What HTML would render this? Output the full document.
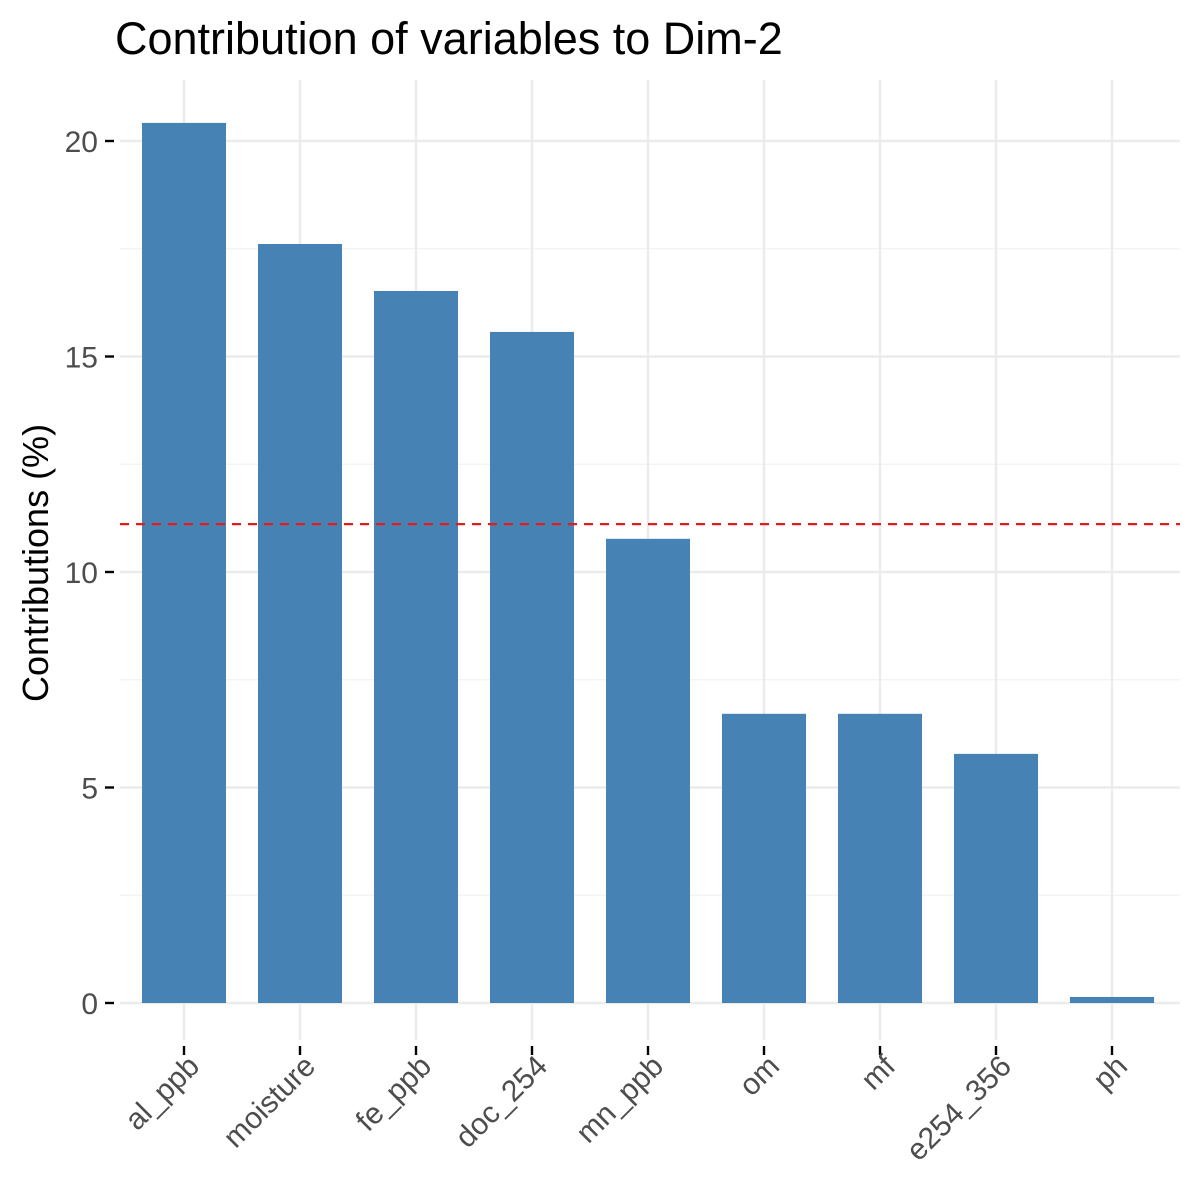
<!DOCTYPE html>
<html><head><meta charset="utf-8"><style>
body{margin:0;background:#fff}
svg{display:block;font-family:"Liberation Sans",Arial,sans-serif}
</style></head><body>
<svg id="chart" width="1200" height="1200">
<text x="115" y="54" font-size="45" fill="#000">Contribution of variables to Dim-2</text>
<text transform="translate(48,563) rotate(-90)" text-anchor="middle" font-size="36" fill="#000">Contributions (%)</text>
<g id="grid"></g><g id="bars"></g><g id="axes"></g>
</svg>
<script>
const categories=["al_ppb","moisture","fe_ppb","doc_254","mn_ppb","om","mf","e254_356","ph"];
const values=[20.42,17.61,16.52,15.57,10.77,6.71,6.71,5.78,0.14];
const yTicks=[0,5,10,15,20];
const refLine=11.11;
const NS="http://www.w3.org/2000/svg";
const y=v=>1003-v*43.1;
const x=i=>184+i*116;
const bw=84;
function mk(t,a,p){const e=document.createElementNS(NS,t);for(const k in a)e.setAttribute(k,a[k]);p.appendChild(e);return e;}
const grid=document.getElementById('grid'),bars=document.getElementById('bars'),axes=document.getElementById('axes');
for(let v=2.5;v<=20;v+=5){const l=mk('line',{x1:120,x2:1180,y1:y(v),y2:y(v),stroke:'#f2f2f2','stroke-width':1.2},grid);

}
yTicks.forEach(v=>{const l=mk('line',{x1:120,x2:1180,y1:y(v),y2:y(v),stroke:'#ebebeb','stroke-width':2.4},grid);


const t=mk('line',{x1:105,x2:114,y1:y(v),y2:y(v),stroke:'#000','stroke-width':2.4},axes);


const tx=mk('text',{x:98,y:y(v)+11,'text-anchor':'end','font-size':30,fill:'#4d4d4d'},axes);tx.textContent=v;

});
categories.forEach((c,i)=>{const l=mk('line',{x1:x(i),x2:x(i),y1:80,y2:1040,stroke:'#ebebeb','stroke-width':2.4},grid);


const r=mk('rect',{x:x(i)-bw/2,y:y(values[i]),width:bw,height:y(0)-y(values[i]),fill:'#4682b4'},bars);


const t=mk('line',{x1:x(i),x2:x(i),y1:1046,y2:1055,stroke:'#000','stroke-width':2.4},axes);


const tx=mk('text',{transform:`translate(${x(i)+17},${1068}) rotate(-45)`,'text-anchor':'end','font-size':30,fill:'#4d4d4d'},axes);tx.textContent=c;

});
const d=mk('line',{x1:120,x2:1180,y1:y(refLine),y2:y(refLine),stroke:'#e41a1c','stroke-width':2.2,'stroke-dasharray':'9,7'},axes);


</script>
</body></html>
